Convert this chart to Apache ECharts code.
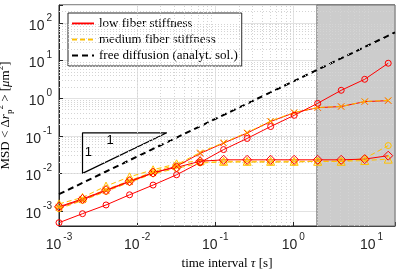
<!DOCTYPE html>
<html><head><meta charset="utf-8">
<script src="https://cdn.jsdelivr.net/npm/echarts@6/dist/echarts.min.js"></script>
<style>html,body{margin:0;padding:0;background:#fff}#c{width:399px;height:276px}</style>
</head><body><div id="c"></div>
<script>
// ---- data ----
const tau = [0.001, 0.002, 0.004, 0.008, 0.016, 0.032, 0.064, 0.128, 0.256, 0.512, 1.024, 2.048, 4.096, 8.192, 16.384];
const lowCircle  = [4.9e-4, 8.5e-4, 1.45e-3, 2.7e-3, 4.9e-3, 9.2e-3, 0.0195, 0.043, 0.085, 0.176, 0.35, 0.73, 1.62, 3.18, 8.5];
const lowCross   = [1.25e-3, 2.0e-3, 3.5e-3, 6.0e-3, 0.0102, 0.0155, 0.034, 0.064, 0.118, 0.24, 0.41, 0.56, 0.60, 0.81, 0.86];
const lowDiamond = [1.3e-3, 2.1e-3, 3.6e-3, 6.2e-3, 0.0105, 0.0145, 0.021, 0.023, 0.023, 0.023, 0.023, 0.023, 0.023, 0.024, 0.0296];
const medCross   = [1.3e-3, 2.1e-3, 3.7e-3, 6.4e-3, 0.011, 0.017, 0.036, 0.066, 0.122, 0.247, 0.417, 0.567, 0.60, 0.82, 0.873];
const medTriangle= [1.55e-3, 2.3e-3, 4.6e-3, 8.1e-3, 0.0125, 0.018, 0.022, 0.021, 0.021, 0.021, 0.021, 0.021, 0.021, 0.022, 0.024];
const medCircle  = [1.15e-3, 1.9e-3, 3.3e-3, 5.8e-3, 0.0098, 0.0135, 0.019, 0.020, 0.020, 0.020, 0.020, 0.021, 0.021, 0.025, 0.055];
const freeTau = [0.001, 20];
const freeMsd = [0.0028, 56];
const shadedTau = [2, 20];
const slopeTau = [0.002, 0.002, 0.024, 0.002];
const slopeMsd = [0.01, 0.12, 0.12, 0.01];
const legendNames = ['low fiber stiffness', 'medium fiber stiffness', 'free diffusion (analyt. sol.)'];
const xMinor = [], yMinor = [];
[0.001, 0.01, 0.1, 1, 10].forEach(d => [2,3,4,5,6,7,8,9].forEach(m => { if (d*m < 20) xMinor.push(d*m); }));
[1e-4, 1e-3, 1e-2, 1e-1, 1, 10, 100].forEach(d => [2,3,4,5,6,7,8,9].forEach(m => { const v = d*m; if (v > 4e-4 && v < 300) yMinor.push(v); }));

const RED = '#ff0000', YEL = '#ffc000';
const pts = (xs, ys) => xs.map((x, i) => [x, ys[i]]);
const XSYM = 'path://M0,0L10,10M10,0L0,10';
const DASH = [5, 3];

function dataSeries(name, ys, color, symbol, size, dashed) {
  return {
    name, type: 'line', data: pts(tau, ys), z: 5,
    symbol, symbolSize: size, showAllSymbol: true,
    lineStyle: { color, width: 1, type: dashed ? DASH : 'solid' },
    itemStyle: { color: 'rgba(0,0,0,0)', borderColor: color, borderWidth: 1 },
    emphasis: { disabled: true }, silent: true
  };
}
const tickFmt = v => {
  const e = Math.log10(v), r = Math.round(e);
  if (Math.abs(e - r) > 1e-6) return '';
  return '{b|10}{s|' + r + '}';
};
const tickRich = {
  b: { fontSize: 14, fontFamily: 'Liberation Sans', color: '#262626', lineHeight: 20, verticalAlign: 'bottom' },
  s: { fontSize: 10, fontFamily: 'Liberation Sans', color: '#262626', verticalAlign: 'top', padding: [0, 0, 0, 2] }
};
const axisCommon = {
  type: 'log', logBase: 10,
  axisLine: { show: true, lineStyle: { color: '#262626', width: 1 } },
  axisTick: { show: true, inside: true, length: 4, lineStyle: { color: '#262626' } },
  splitLine: { show: true, lineStyle: { color: '#e2e2e2', width: 1 } },
  minorTick: { show: false }, minorSplitLine: { show: false }
};

const option = {
  animation: false,
  backgroundColor: '#fff',
  grid: { left: 59, right: 4, top: 5, bottom: 50, show: true, borderColor: '#262626', borderWidth: 1,
    outerBoundsMode: 'none', containLabel: false },
  xAxis: Object.assign({}, axisCommon, {
    min: 0.001, max: 20,
    axisLabel: { formatter: tickFmt, rich: tickRich, margin: 6 },
    name: 'time interval {i|τ} [s]', nameLocation: 'middle', nameGap: 30,
    nameTextStyle: { fontFamily: 'Liberation Serif', fontSize: 13, color: '#000',
      rich: { i: { fontFamily: 'Liberation Serif', fontStyle: 'italic', fontSize: 13, color: '#000' } } }
  }),
  yAxis: Object.assign({}, axisCommon, {
    min: 4e-4, max: 300,
    axisLabel: { formatter: tickFmt, rich: tickRich, margin: 7 },
    name: 'MSD < Δ{i|r}{sub|p}{sup|2} > [{i|μ}m{sup|2}]', nameLocation: 'middle', nameRotate: 90, nameGap: 27,
    nameTextStyle: { fontFamily: 'Liberation Serif', fontSize: 13, color: '#000', lineHeight: 18,
      rich: {
        i: { fontFamily: 'Liberation Serif', fontStyle: 'italic', fontSize: 13, color: '#000', lineHeight: 18 },
        sub: { fontFamily: 'Liberation Serif', fontSize: 9, color: '#000', verticalAlign: 'bottom' },
        sup: { fontFamily: 'Liberation Serif', fontSize: 9, color: '#000', verticalAlign: 'top' }
      } }
  }),
  legend: {
    data: legendNames, orient: 'vertical', left: 68, top: 13,
    itemWidth: 22, itemHeight: 12, itemGap: 3, padding: [4, 4, 4, 3],
    backgroundColor: '#fff', borderColor: '#262626', borderWidth: 1, borderRadius: 0,
    selectedMode: false,
    textStyle: { fontFamily: 'Liberation Serif', fontSize: 13, color: '#000' }
  },
  series: [
    { name: 'minor grid', type: 'line', data: [], z: 1, silent: true,
      markLine: { silent: true, symbol: ['none', 'none'], label: { show: false },
        lineStyle: { color: '#d4d4d4', width: 1, type: [1, 2] },
        data: xMinor.map(v => ({ xAxis: v })).concat(yMinor.map(v => ({ yAxis: v }))) } },
    { name: 'shade', type: 'line', data: [], z: 2, silent: true,
      markArea: { silent: true, itemStyle: { color: '#cccccc', opacity: 1, borderColor: '#6e6e6e', borderWidth: 1 },
        data: [[{ xAxis: shadedTau[0] }, { xAxis: shadedTau[1] }]] } },
    { name: legendNames[0], type: 'line', data: [], symbol: 'circle', lineStyle: { color: RED, width: 1 },
      itemStyle: { color: 'rgba(0,0,0,0)', borderWidth: 0 } },
    { name: legendNames[1], type: 'line', data: [], symbol: 'circle', lineStyle: { color: YEL, width: 1, type: DASH },
      itemStyle: { color: 'rgba(0,0,0,0)', borderWidth: 0 } },
    { name: legendNames[2], type: 'line', data: pts(freeTau, freeMsd), symbol: 'none', z: 4,
      lineStyle: { color: '#000', width: 2, type: [6, 4] }, itemStyle: { color: 'rgba(0,0,0,0)', borderWidth: 0 }, silent: true },
    dataSeries('med t', medTriangle, YEL, 'triangle', 8, true),
    dataSeries('med o', medCircle, YEL, 'circle', 6, true),
    dataSeries('low x', lowCross, RED, XSYM, 6, false),
    dataSeries('med x', medCross, YEL, XSYM, 6, true),
    dataSeries('low d', lowDiamond, RED, 'diamond', 9, false),
    dataSeries('low o', lowCircle, RED, 'circle', 6, false),
    { name: 'slope', type: 'line', data: pts(slopeTau, slopeMsd), symbol: 'none', z: 4, silent: true,
      lineStyle: { color: '#000', width: 1.2 },
      markPoint: { symbol: 'rect', symbolSize: 1, silent: true, itemStyle: { color: 'rgba(0,0,0,0)' },
        label: { show: true, position: 'inside', formatter: '1', fontFamily: 'Liberation Sans', fontSize: 13, color: '#000' },
        data: [{ coord: [0.0045, 0.074] }, { coord: [0.00237, 0.0362] }] } }
  ]
};
const chart = echarts.init(document.getElementById('c'), null, { renderer: 'canvas' });
chart.setOption(option);
</script></body></html>
